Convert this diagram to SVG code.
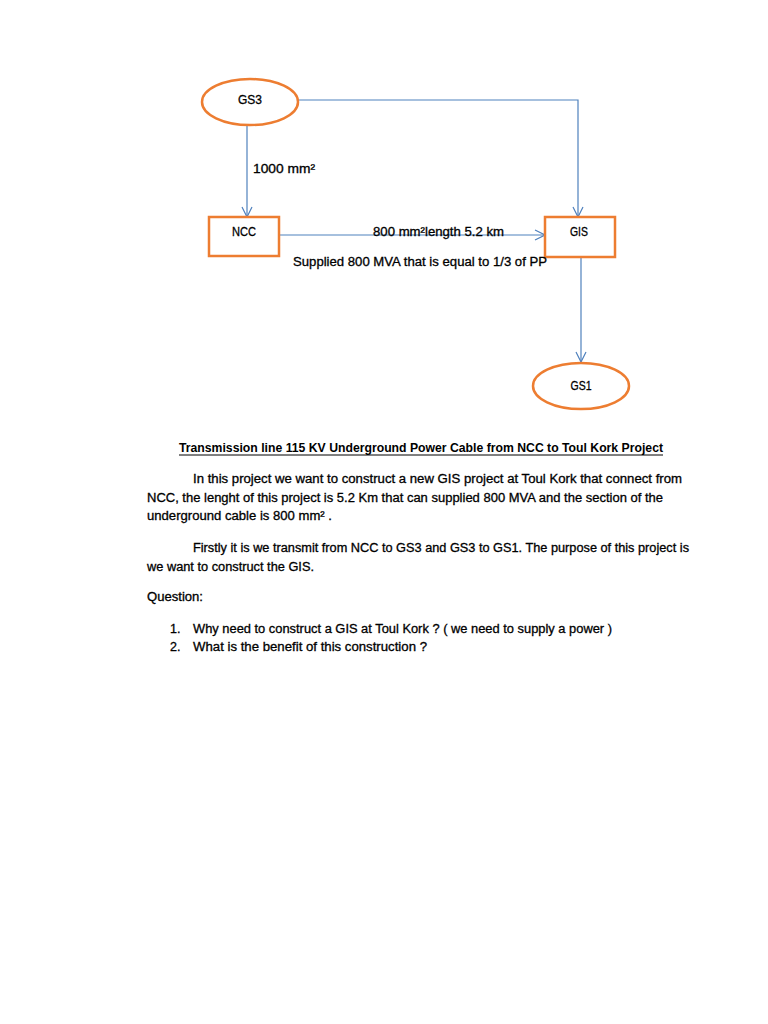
<svg xmlns="http://www.w3.org/2000/svg" width="768" height="1024" viewBox="0 0 768 1024">
<style>
.node{fill:#fff;stroke:#ED7D31;stroke-width:2.5}
.conn{fill:none;stroke:#4F81BD;stroke-width:1.2}
text{font-family:"Liberation Sans",Arial,sans-serif;font-size:12.5px;fill:#000;stroke:#000;stroke-width:0.3}
.b{font-weight:bold;stroke-width:0}
.c{text-anchor:middle}
</style>
<defs>
<marker id="arr" viewBox="0 0 12 12" refX="11" refY="6" markerWidth="12" markerHeight="12" markerUnits="userSpaceOnUse" orient="auto">
<polyline points="1,1 11,6 1,11" fill="none" stroke="#4F81BD" stroke-width="1.2"/>
</marker>
</defs>
<rect width="768" height="1024" fill="#fff"/>
<g id="connectors">
<polyline class="conn" points="299,100 578,100 578,217" marker-end="url(#arr)"/>
<line class="conn" x1="247" y1="125" x2="247" y2="217" marker-end="url(#arr)"/>
<line class="conn" x1="280" y1="235" x2="545" y2="235" marker-end="url(#arr)"/>
<line class="conn" x1="581" y1="257" x2="581" y2="362" marker-end="url(#arr)"/>
</g>
<g id="GS3"><ellipse class="node" cx="250" cy="102" rx="48" ry="23"/><text class="c" x="250" y="104" textLength="24" lengthAdjust="spacingAndGlyphs">GS3</text></g>
<g id="NCC"><rect class="node" x="209" y="217" width="70" height="39"/><text class="c" x="244" y="236" textLength="24" lengthAdjust="spacingAndGlyphs">NCC</text></g>
<g id="GIS"><rect class="node" x="545" y="217" width="70" height="40"/><text class="c" x="579" y="236" textLength="18" lengthAdjust="spacingAndGlyphs">GIS</text></g>
<g id="GS1"><ellipse class="node" cx="581" cy="386" rx="48" ry="23"/><text class="c" x="581" y="390" textLength="21" lengthAdjust="spacingAndGlyphs">GS1</text></g>
<g id="labels">
<text x="253" y="173" textLength="62" lengthAdjust="spacingAndGlyphs">1000 mm²</text>
<text x="373" y="236" textLength="131" lengthAdjust="spacingAndGlyphs">800 mm²length 5.2 km</text>
<text x="293" y="266" textLength="254" lengthAdjust="spacingAndGlyphs">Supplied 800 MVA  that is equal to 1/3 of PP</text>
</g>
<g id="body">
<text class="b" x="179" y="452" textLength="484" lengthAdjust="spacingAndGlyphs">Transmission line 115 KV Underground Power Cable from NCC to Toul Kork Project</text>
<line x1="179" y1="455" x2="663" y2="455" stroke="#000" stroke-width="1"/>
<text x="193" y="483" textLength="489" lengthAdjust="spacingAndGlyphs">In this project we want to construct a new GIS project at Toul Kork that connect from</text>
<text x="147" y="502" textLength="516" lengthAdjust="spacingAndGlyphs">NCC, the lenght of this project is 5.2 Km that can supplied 800 MVA and the section of the</text>
<text x="147" y="520" textLength="185" lengthAdjust="spacingAndGlyphs">underground  cable is 800 mm² .</text>
<text x="193" y="552" textLength="496" lengthAdjust="spacingAndGlyphs">Firstly it is we transmit from NCC to GS3 and GS3 to GS1. The purpose of this project is</text>
<text x="147" y="571" textLength="167" lengthAdjust="spacingAndGlyphs">we want to construct the GIS.</text>
<text x="147" y="601" textLength="56" lengthAdjust="spacingAndGlyphs">Question:</text>
<text x="170" y="633">1.</text>
<text x="193" y="633" textLength="419" lengthAdjust="spacingAndGlyphs">Why need to construct a GIS at Toul Kork ? ( we need to supply a power )</text>
<text x="170" y="651">2.</text>
<text x="193" y="651" textLength="234" lengthAdjust="spacingAndGlyphs">What is the benefit of this construction ?</text>
</g>
</svg>
